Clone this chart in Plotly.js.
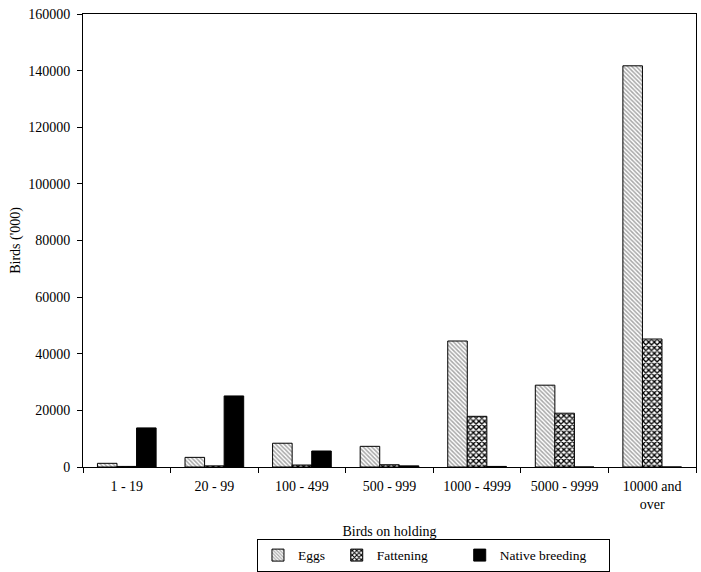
<!DOCTYPE html>
<html>
<head>
<meta charset="utf-8">
<script src="https://cdn.plot.ly/plotly-3.0.1.min.js"></script>
<style>html,body{margin:0;padding:0;background:#fff;}#chart{width:701px;height:572px;}</style>
</head>
<body>
<div id="chart"></div>
<script>
var categories = ["1 - 19", "20 - 99", "100 - 499", "500 - 999", "1000 - 4999", "5000 - 9999", "10000 and<br>over"];
var eggs = [1300, 3400, 8400, 7300, 44500, 28900, 141700];
var fattening = [200, 400, 700, 800, 17900, 19000, 45200];
var nativeBreeding = [13800, 25100, 5650, 400, 200, 0, 0];
var seriesNames = ["Eggs", "Fattening", "Native breeding"];

var FONT = "Liberation Serif";
var NB = "\u00a0";
function pad(s, n) { return s + NB.repeat(n); }

var traces = [
  {type: "bar", name: pad(seriesNames[0], 2), x: categories, y: eggs,
   marker: {color: "#ffffff", line: {color: "#000", width: 1},
            pattern: {shape: "\\", fgcolor: "#a8a8a8", bgcolor: "#ffffff", size: 3, solidity: 0.5}}},
  {type: "bar", name: pad(seriesNames[1], 8), x: categories, y: fattening,
   marker: {color: "#ffffff", line: {color: "#000", width: 1},
            pattern: {shape: "x", fgcolor: "#000000", bgcolor: "#ffffff", size: 4, solidity: 0.55}}},
  {type: "bar", name: pad(seriesNames[2], 5), x: categories, y: nativeBreeding,
   marker: {color: "#000000", line: {color: "#000", width: 1}}}
];

var layout = {
  width: 701, height: 572,
  margin: {l: 83, r: 5, t: 14, b: 105},
  paper_bgcolor: "#fff", plot_bgcolor: "#fff",
  font: {family: FONT, size: 14, color: "#000"},
  barmode: "group", bargap: 0.33, bargroupgap: 0,
  showlegend: true,
  legend: {orientation: "h", x: 0.2838, xanchor: "left", yref: "container", y: 0.058, yanchor: "top",
           bordercolor: "#000", borderwidth: 1, font: {family: FONT, size: 13.5, color: "#000"},
           traceorder: "normal", tracegroupgap: 0},
  xaxis: {type: "category", showline: true, linecolor: "#000", linewidth: 1, mirror: true,
          ticks: "outside", ticklen: 5, tickcolor: "#000", tickson: "boundaries",
          ticklabelstandoff: 6, showgrid: false, zeroline: false,
          title: {text: "Birds on holding", font: {family: FONT, size: 14}, standoff: 21}},
  yaxis: {range: [0, 160000], dtick: 20000, tickformat: "d", showline: true, linecolor: "#000",
          linewidth: 1, mirror: true, ticks: "outside", ticklen: 5, tickcolor: "#000",
          ticklabelstandoff: 4, showgrid: false, zeroline: false,
          title: {text: "Birds ('000)", font: {family: FONT, size: 14}, standoff: 4}}
};

Plotly.newPlot("chart", traces, layout, {displayModeBar: false, staticPlot: true});
</script>
</body>
</html>
